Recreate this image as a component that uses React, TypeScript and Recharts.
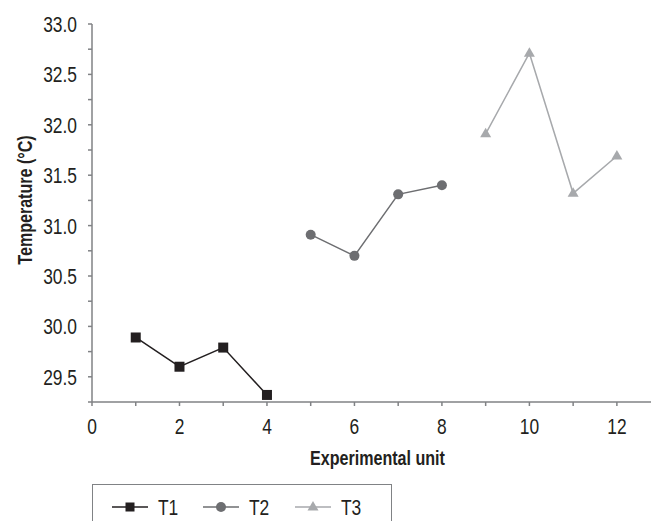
import React from 'react';
import { LineChart, Line, XAxis, YAxis, Legend, Label } from 'recharts';

const t1Units = [1, 2, 3, 4];
const t1Temps = [29.89, 29.6, 29.79, 29.32];
const t2Units = [5, 6, 7, 8];
const t2Temps = [30.91, 30.7, 31.31, 31.4];
const t3Units = [9, 10, 11, 12];
const t3Temps = [31.91, 32.71, 31.32, 31.69];
const xTicks = [0, 1, 2, 3, 4, 5, 6, 7, 8, 9, 10, 11, 12];
const yTicks = [29.25, 29.5, 29.75, 30, 30.25, 30.5, 30.75, 31, 31.25, 31.5, 31.75, 32, 32.25, 32.5, 32.75, 33];
const seriesNames = ['T1', 'T2', 'T3'];

const t1 = t1Units.map((x, i) => ({ x, y: t1Temps[i] }));
const t2 = t2Units.map((x, i) => ({ x, y: t2Temps[i] }));
const t3 = t3Units.map((x, i) => ({ x, y: t3Temps[i] }));

const FONT = "'Liberation Sans', Arial, sans-serif";
const C1 = '#231f20';
const C2 = '#6d6e71';
const C3 = '#a7a9ac';
const AXIS = '#808285';

const NText = (props: any) => {
  const { x, y, rotate = 0, sx = 0.79, children, ...rest } = props;
  return (
    <text
      transform={`translate(${x} ${y}) rotate(${rotate}) scale(${sx} 1)`}
      x={0}
      y={0}
      fontFamily={FONT}
      fill={C1}
      {...rest}
    >
      {children}
    </text>
  );
};

const Square = (props: any) => {
  const { cx, cy } = props;
  if (cx == null || cy == null) return null;
  return <rect x={cx - 5} y={cy - 5} width={10} height={10} fill={C1} />;
};
const Circle = (props: any) => {
  const { cx, cy } = props;
  if (cx == null || cy == null) return null;
  return <circle cx={cx} cy={cy} r={5} fill={C2} />;
};
const Tri = (props: any) => {
  const { cx, cy } = props;
  if (cx == null || cy == null) return null;
  return <polygon points={`${cx},${cy - 6} ${cx + 5.5},${cy + 3.5} ${cx - 5.5},${cy + 3.5}`} fill={C3} />;
};

const XTick = (props: any) => {
  const { x, y, payload } = props;
  if (payload.value % 2 !== 0) return <g />;
  return (
    <NText x={x} y={y} dy="0.72em" textAnchor="middle" fontSize={22}>
      {payload.value}
    </NText>
  );
};
const YTick = (props: any) => {
  const { x, y, payload } = props;
  if (Math.abs(payload.value * 2 - Math.round(payload.value * 2)) > 1e-6) return <g />;
  return (
    <NText x={x} y={y} dy="0.36em" textAnchor="end" fontSize={22}>
      {payload.value.toFixed(1)}
    </NText>
  );
};

const LegendBox = () => {
  const items = [
    { name: seriesNames[0], color: C1, x: 19 },
    { name: seriesNames[1], color: C2, x: 110 },
    { name: seriesNames[2], color: C3, x: 202 },
  ];
  return (
    <svg width={298} height={40} style={{ display: 'block' }}>
      {items.map((it, i) => {
        const cy = 22;
        const mx = it.x + 18;
        return (
          <g key={it.name}>
            <line x1={it.x} x2={it.x + 36} y1={cy} y2={cy} stroke={it.color} strokeWidth={1.5} />
            {i === 0 && <rect x={mx - 4.5} y={cy - 4.5} width={9} height={9} fill={C1} />}
            {i === 1 && <circle cx={mx} cy={cy} r={5} fill={C2} />}
            {i === 2 && <polygon points={`${mx},${cy - 6} ${mx + 5.5},${cy + 3.5} ${mx - 5.5},${cy + 3.5}`} fill={C3} />}
            <NText x={it.x + 46} y={cy} dy="0.36em" fontSize={22}>
              {it.name}
            </NText>
          </g>
        );
      })}
    </svg>
  );
};

export default function App() {
  return (
    <div style={{ position: 'absolute', left: 0, top: 0, width: 651, height: 521, overflow: 'hidden', background: '#fff' }}>
      <LineChart width={651} height={521} margin={{ top: 24, right: 0, bottom: 49, left: 0 }}>
        <XAxis
          type="number"
          dataKey="x"
          domain={[0, 12.78]}
          ticks={xTicks}
          interval={0}
          allowDataOverflow
          tick={<XTick />}
          tickSize={4}
          tickMargin={12}
          stroke={AXIS}
          strokeWidth={1.5}
          height={70}
        >
          <Label
            content={(p: any) => {
              const vb = p.viewBox || {};
              return (
                <NText x={vb.x + vb.width / 2 + 6} y={465} sx={0.766} textAnchor="middle" fontWeight="bold" fontSize={21}>
                  Experimental unit
                </NText>
              );
            }}
          />
        </XAxis>
        <YAxis
          type="number"
          dataKey="y"
          domain={[29.25, 33]}
          ticks={yTicks}
          interval={0}
          allowDataOverflow
          tick={<YTick />}
          tickSize={4}
          tickMargin={11}
          stroke={AXIS}
          strokeWidth={1.5}
          width={92}
        >
          <Label
            content={(p: any) => {
              const vb = p.viewBox || {};
              const cx = 32;
              const cy = vb.y + vb.height / 2 - 13;
              return (
                <NText x={cx} y={cy} rotate={-90} sx={0.766} textAnchor="middle" fontWeight="bold" fontSize={21}>
                  Temperature (°C)
                </NText>
              );
            }}
          />
        </YAxis>
        <Legend
          layout="horizontal"
          verticalAlign="middle"
          align="center"
          content={() => <LegendBox />}
          wrapperStyle={{ position: 'absolute', left: 92, top: 484, width: 300, height: 50, border: `1.5px solid ${AXIS}`, boxSizing: 'border-box', background: '#fff' }}
        />
        <Line data={t1} dataKey="y" name={seriesNames[0]} stroke={C1} strokeWidth={1.5} dot={<Square />} activeDot={false} isAnimationActive={false} />
        <Line data={t2} dataKey="y" name={seriesNames[1]} stroke={C2} strokeWidth={1.5} dot={<Circle />} activeDot={false} isAnimationActive={false} />
        <Line data={t3} dataKey="y" name={seriesNames[2]} stroke={C3} strokeWidth={1.5} dot={<Tri />} activeDot={false} isAnimationActive={false} />
      </LineChart>
    </div>
  );
}
